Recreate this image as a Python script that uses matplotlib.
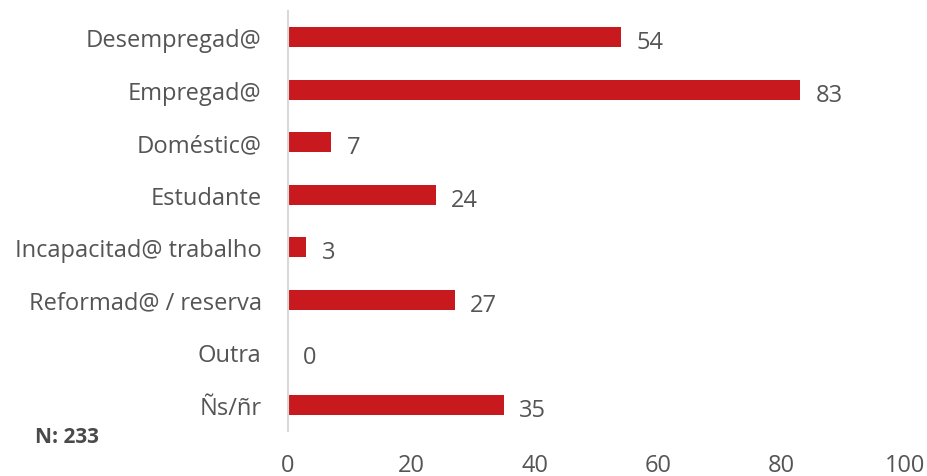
import matplotlib.pyplot as plt
from matplotlib import font_manager as fm

categories = [
    "Desempregad@",
    "Empregad@",
    "Doméstic@",
    "Estudante",
    "Incapacitad@ trabalho",
    "Reformad@ / reserva",
    "Outra",
    "Ñs/ñr",
]
values = [54, 83, 7, 24, 3, 27, 0, 35]
x_ticks = [0, 20, 40, 60, 80, 100]
n_label = "N: 233"

BAR_COLOR = "#C8191E"
TEXT_COLOR = "#555555"
FS = 17

# prefer the static Open Sans files over the variable one
fm.fontManager.ttflist = [f for f in fm.fontManager.ttflist if "[" not in f.fname]
plt.rcParams["font.family"] = ["Open Sans", "DejaVu Sans"]

fig = plt.figure(figsize=(9.28, 4.77), dpi=100)
ax = fig.add_axes([0.3103, 0.0943, 0.6649, 0.8805])

pos = list(range(len(categories)))
ax.barh(pos, values, height=0.38, color=BAR_COLOR)
for y, v in zip(pos, values):
    ax.annotate(str(v), (v, y), xytext=(11, -3.5), textcoords="offset points",
                va="center", ha="left", fontsize=FS, color=TEXT_COLOR)

ax.set_xlim(0, 100)
ax.set_ylim(len(categories) - 0.5, -0.5)
ax.set_yticks(pos)
ax.set_yticklabels(categories)
ax.set_xticks(x_ticks)
ax.tick_params(axis="both", length=0, labelsize=FS, colors=TEXT_COLOR)
ax.tick_params(axis="y", pad=19)
ax.tick_params(axis="x", pad=16)

for side in ("top", "right", "bottom"):
    ax.spines[side].set_visible(False)
ax.spines["left"].set_color("#D9D9D9")
ax.spines["left"].set_linewidth(1.5)

fig.text(35 / 928, 1 - 438 / 477, n_label, fontsize=15, fontweight="bold",
         color="#4A4A4A", ha="left", va="center")

fig.savefig("out.png", dpi=100)
